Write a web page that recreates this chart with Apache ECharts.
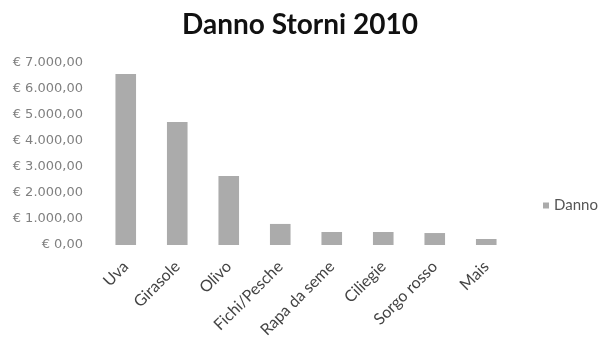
<!DOCTYPE html>
<html>
<head>
<meta charset="utf-8">
<script src="https://cdn.jsdelivr.net/npm/echarts@6/dist/echarts.min.js"></script>
<style>html,body{margin:0;padding:0;background:#fff}#c{width:600px;height:342px}</style>
</head>
<body>
<div id="c"></div>
<script>
const categories = ["Uva", "Girasole", "Olivo", "Fichi/Pesche", "Rapa da seme", "Ciliegie", "Sorgo rosso", "Mais"];
const danno = [6580, 4730, 2650, 810, 500, 500, 460, 230];
const seriesName = "Danno";
const titleText = "Danno Storni 2010";

function euro(v) {
  const s = Math.round(v).toString().replace(/\B(?=(\d{3})+(?!\d))/g, ".");
  return "\u20AC " + s + ",00";
}

const chart = echarts.init(document.getElementById('c'), null, {renderer: 'canvas'});
chart.setOption({
  animation: false,
  backgroundColor: '#ffffff',
  title: {
    text: titleText,
    left: 'center',
    top: 6,
    textStyle: {fontFamily: 'Lato', fontWeight: 'bold', fontSize: 28, color: '#111'}
  },
  legend: {
    data: [seriesName],
    left: 538,
    top: 193,
    itemWidth: 6,
    itemHeight: 6,
    itemGap: 6,
    icon: 'rect',
    textStyle: {fontFamily: 'Lato', fontSize: 15, color: '#555'}
  },
  grid: {left: 100, top: 63, width: 412, height: 182, containLabel: false},
  xAxis: {
    type: 'category',
    data: categories,
    axisLine: {show: false},
    axisTick: {show: false},
    axisLabel: {rotate: 45, margin: 19, fontFamily: 'Lato', fontSize: 16, color: '#444', interval: 0}
  },
  yAxis: {
    type: 'value',
    min: 0,
    max: 7000,
    interval: 1000,
    splitLine: {show: false},
    axisLine: {show: false},
    axisTick: {show: false},
    axisLabel: {margin: 17, fontFamily: 'DejaVu Sans', fontSize: 13, color: '#808080', formatter: euro}
  },
  series: [{
    name: seriesName,
    type: 'bar',
    data: danno,
    barWidth: '40%',
    itemStyle: {color: '#ababab'}
  }]
});
</script>
</body>
</html>
